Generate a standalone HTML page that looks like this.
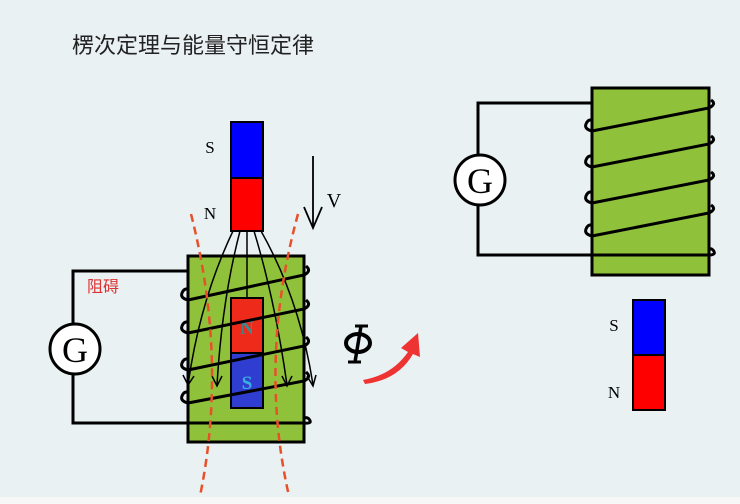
<!DOCTYPE html>
<html><head><meta charset="utf-8"><style>
html,body{margin:0;padding:0;background:#e9f1f2;}
svg{display:block}
</style></head><body>
<svg width="740" height="504" viewBox="0 0 740 504" xmlns="http://www.w3.org/2000/svg">
<rect width="740" height="504" fill="#e9f1f2"/>
<rect y="497" width="740" height="7" fill="#f7f7f7"/>
<text x="72" y="53" font-family="'Liberation Sans','Noto Sans CJK SC',sans-serif" font-size="22" fill="#222">楞次定理与能量守恒定律</text>

<g fill="none" stroke="#000" stroke-width="3">
<polyline points="188,271 73,271 73,324"/>
<polyline points="73,374 73,423 188,423"/>
<circle cx="75" cy="349" r="25" fill="#fff" stroke-width="3"/>
</g>
<text x="75" y="362" text-anchor="middle" font-family="'Liberation Serif',serif" font-size="36">G</text>
<rect x="188" y="256" width="116" height="186" fill="#8fc23a" stroke="#000" stroke-width="3"/>
<text x="87" y="292" font-family="'Liberation Sans','Noto Sans CJK SC',sans-serif" font-size="16" fill="#d33">阻碍</text>

<rect x="231" y="298" width="32" height="55" fill="#ee2a1a" stroke="#000" stroke-width="2"/>
<rect x="231" y="353" width="32" height="55" fill="#2f3ed0" stroke="#000" stroke-width="2"/>
<text x="247" y="334" text-anchor="middle" font-family="'Liberation Serif',serif" font-size="19" font-weight="bold" fill="#3a8a90">N</text>
<text x="247" y="389" text-anchor="middle" font-family="'Liberation Serif',serif" font-size="19" font-weight="bold" fill="#3ab0e0">S</text>

<g fill="none" stroke="#000" stroke-width="3">
<path d="M188,423 L304,423 Q313,424 309,419 Q307,417 304,418"/>
<path d="M188,300 L304,275 Q312,271 306,266"/>
<path d="M188,333 L304,309 Q312,305 306,300"/>
<path d="M188,370 L304,346 Q312,342 306,337"/>
<path d="M188,403 L304,381 Q312,377 306,372"/>
<path d="M188,300 Q180,298 182,293 Q184,288 188,289"/>
<path d="M188,333 Q180,331 182,326 Q184,321 188,322"/>
<path d="M188,370 Q180,368 182,363 Q184,358 188,359"/>
<path d="M188,403 Q180,401 182,396 Q184,391 188,392"/>
</g>

<g fill="none" stroke="#000" stroke-width="1.5">
<path d="M233,231 Q200,300 188,385"/>
<path d="M240,231 Q222,300 217,385"/>
<path d="M247,231 L247,298"/>
<path d="M254,231 Q275,300 287,385"/>
<path d="M261,231 Q300,300 313,385"/>
<path d="M183,375 L188,385 L194,376 M212,376 L217,386 L222,376 M282,376 L287,386 L292,376 M307,376 L313,386 L316,375"/>
</g>

<g fill="none" stroke="#e8502a" stroke-width="2.5" stroke-dasharray="8,5">
<path d="M191,214 Q228,360 200,496"/>
<path d="M298,214 Q258,360 289,496"/>
</g>

<rect x="231" y="122" width="32" height="56" fill="#0000ff" stroke="#000" stroke-width="2"/>
<rect x="231" y="178" width="32" height="53" fill="#ff0000" stroke="#000" stroke-width="2"/>
<text x="210" y="153" text-anchor="middle" font-family="'Liberation Serif',serif" font-size="17">S</text>
<text x="210" y="219" text-anchor="middle" font-family="'Liberation Serif',serif" font-size="17">N</text>
<g stroke="#000" stroke-width="1.8" fill="none">
<line x1="313" y1="156" x2="313" y2="228"/>
<polyline points="304,207 313,228 322,207"/>
</g>
<text x="334" y="207" text-anchor="middle" font-family="'Liberation Serif',serif" font-size="20">V</text>

<g stroke="#000" fill="none">
<ellipse cx="358" cy="343" rx="12" ry="9" stroke-width="4"/>
<line x1="361" y1="326" x2="355" y2="362" stroke-width="3.5"/>
<line x1="355" y1="326" x2="368" y2="326" stroke-width="3"/>
<line x1="348" y1="362" x2="361" y2="362" stroke-width="3"/>
</g>
<path d="M363,380 Q392,375 408,352 L401,348 L418,333 L420,357 L413,354 Q398,380 365,384 Z" fill="#ee3333"/>

<g fill="none" stroke="#000" stroke-width="3">
<polyline points="592,103 478,103 478,155"/>
<polyline points="478,205 478,255 592,255"/>
<circle cx="480" cy="180" r="25" fill="#fff"/>
</g>
<text x="480" y="193" text-anchor="middle" font-family="'Liberation Serif',serif" font-size="36">G</text>
<rect x="592" y="88" width="117" height="187" fill="#8fc23a" stroke="#000" stroke-width="3"/>
<g fill="none" stroke="#000" stroke-width="3">
<path d="M592,255 L709,255 Q717,255 713,250 Q711,248 709,249"/>
<path d="M592,131 L709,108 Q717,104 711,100"/>
<path d="M592,167 L709,144 Q717,140 711,136"/>
<path d="M592,203 L709,180 Q717,176 711,172"/>
<path d="M592,236 L709,213 Q717,209 711,205"/>
<path d="M592,131 Q584,129 586,124 Q588,119 592,120"/>
<path d="M592,167 Q584,165 586,160 Q588,155 592,156"/>
<path d="M592,203 Q584,201 586,196 Q588,191 592,192"/>
<path d="M592,236 Q584,234 586,229 Q588,224 592,225"/>
</g>
<rect x="633" y="300" width="32" height="55" fill="#0000ff" stroke="#000" stroke-width="2"/>
<rect x="633" y="355" width="32" height="55" fill="#ff0000" stroke="#000" stroke-width="2"/>
<text x="614" y="331" text-anchor="middle" font-family="'Liberation Serif',serif" font-size="17">S</text>
<text x="614" y="398" text-anchor="middle" font-family="'Liberation Serif',serif" font-size="17">N</text>
</svg>
</body></html>
